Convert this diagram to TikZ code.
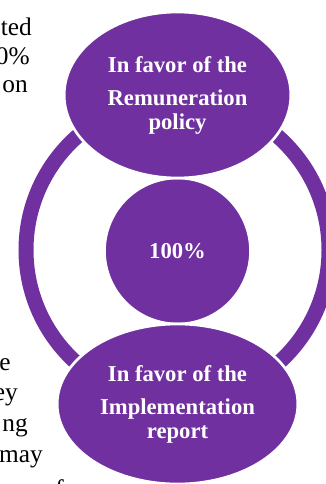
\documentclass[tikz,border=0pt]{standalone}
\usepackage{fontspec}
\setmainfont{Liberation Serif}
\usetikzlibrary{shapes.geometric}
\definecolor{votepurple}{HTML}{7030A0}

\begin{document}
\begin{tikzpicture}[x=0.75pt,y=-0.75pt,
	bubble/.style={fill=votepurple, draw=white, line width=2pt, text=white, align=center, inner sep=0pt,
		font=\fontsize{17}{18}\selectfont\bfseries},
	backtext/.style={inner sep=0pt, font=\fontsize{19}{19}\selectfont}]
	\useasboundingbox (0,0) rectangle (325,484);
	% page text behind the picture
	\node[backtext, anchor=base east] (ted) at (32,36) {ted};
	\node[backtext, anchor=base east] (pct) at (30,65) {0\%};
	\node[backtext, anchor=base east] (on) at (28,93) {on};
	\node[backtext, anchor=base east] (e) at (11,370) {e};
	\node[backtext, anchor=base east] (ey) at (18,400) {ey};
	\node[backtext, anchor=base east] (ng) at (28,431) {ng};
	\node[backtext, anchor=base east] (may) at (43,462) {may};
	\node[backtext, anchor=base west] (f) at (55,497) {f};
	
	\draw[votepurple, line width=11.25pt] (177.5,250) circle (151.5);
	
	\node[bubble, circle, minimum size=109.5pt] (total) at (177.5,251) {100\%};
	
	\node[bubble, ellipse, minimum width=170pt, minimum height=124.5pt] (remun) at (177.5,95)
		{In favor of the\\[6.75pt] Remuneration\\ policy};
	
	\node[bubble, ellipse, minimum width=180.5pt, minimum height=120pt] (implem) at (177.5,404)
		{In favor of the\\[6.75pt] Implementation\\ report};
\end{tikzpicture}
\end{document}
